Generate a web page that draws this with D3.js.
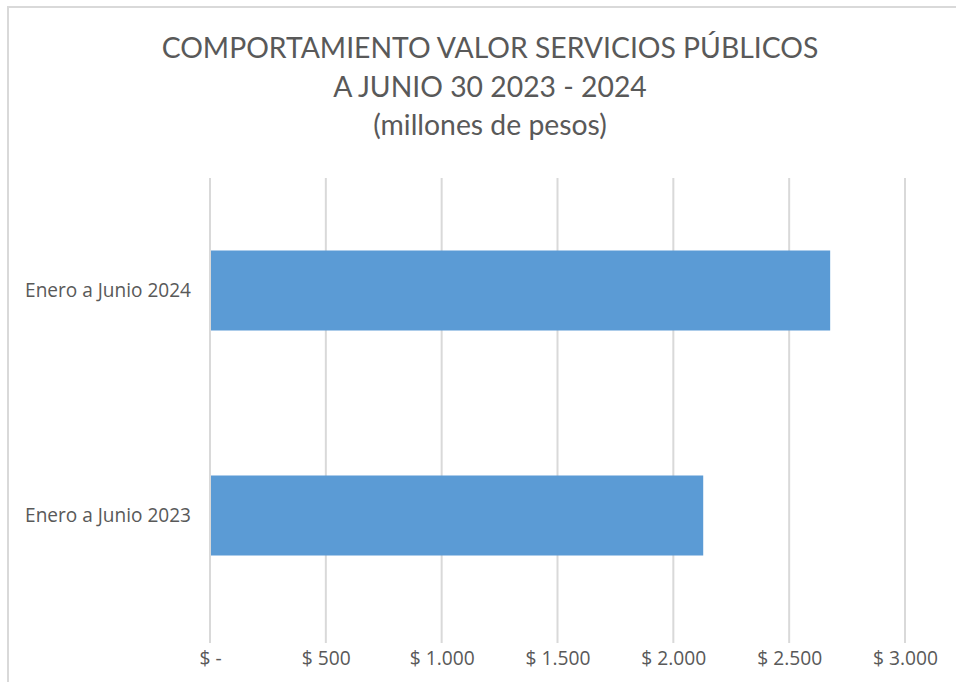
<!DOCTYPE html>
<html>
<head>
<meta charset="utf-8">
<script src="https://cdn.jsdelivr.net/npm/d3@7"></script>
<style>
  body { margin: 0; background: #fff; }
  text { font-family: Lato, "Open Sans", sans-serif; fill: #595959; }
</style>
</head>
<body>
<svg id="chart" width="956" height="682"></svg>
<script>
// data
const categories = ["Enero a Junio 2024", "Enero a Junio 2023"];
const values = [2677, 2129];
const tickValues = [0, 500, 1000, 1500, 2000, 2500, 3000];
const titleLines = ["COMPORTAMIENTO VALOR SERVICIOS PÚBLICOS", "A JUNIO 30 2023 - 2024", "(millones de pesos)"];

const svg = d3.select("#chart");

// scale a group of texts so a sample text hits the target width
function fitFont(sel, sample, target) {
    const w = sample.getComputedTextLength();
    const fs = parseFloat(sample.style.fontSize);
    sel.style("font-size", (fs * target / w) + "px");
}

// chart border (only top/left visible in the crop)
svg.append("rect")
    .attr("x", 8).attr("y", 7)
    .attr("width", 1000).attr("height", 700)
    .attr("fill", "none")
    .attr("stroke", "#d9d9d9")
    .attr("stroke-width", 2);

// scales
const x = d3.scaleLinear().domain([0, 3000]).range([210, 905]);
const y = d3.scaleBand()
    .domain(categories)
    .range([178, 628])
    .paddingInner(0.6444)
    .paddingOuter(0.3222);

// title
const title = svg.append("g");
const baselines = [58, 97, 135];
titleLines.forEach((t, i) => {
    title.append("text")
        .attr("x", 490)
        .attr("y", baselines[i])
        .attr("text-anchor", "middle")
        .style("font-size", "27px")
        .text(t);
});
fitFont(title.selectAll("text"), title.select("text").node(), 657);

// gridlines
svg.append("g")
    .selectAll("line")
    .data(tickValues)
    .join("line")
    .attr("x1", d => x(d)).attr("x2", d => x(d))
    .attr("y1", 178).attr("y2", 643)
    .attr("stroke", "#d9d9d9")
    .attr("stroke-width", 2);

// bars
svg.append("g")
    .selectAll("rect")
    .data(values)
    .join("rect")
    .attr("x", x(0) + 1)
    .attr("y", (d, i) => y(categories[i]))
    .attr("width", d => x(d) - x(0) - 1)
    .attr("height", y.bandwidth())
    .attr("fill", "#5b9bd5");

// x axis labels
const fmt = d => d === 0 ? "$ -" : "$ " + d3.format(",")(d).replace(/,/g, ".");
const xAxis = svg.append("g")
    .attr("transform", "translate(0,643)")
    .call(d3.axisBottom(x).tickValues(tickValues).tickFormat(fmt).tickSize(0));
xAxis.select(".domain").remove();
const xLabels = xAxis.selectAll("text")
    .attr("dy", "0")
    .attr("y", 22)
    .style("font-size", "16px")
    .style("font-family", "'Open Sans', sans-serif")
    .attr("fill", "#595959");
fitFont(xLabels, xLabels.nodes()[6], 65);

// y axis labels
const yAxis = svg.append("g")
    .attr("transform", "translate(191,0)")
    .call(d3.axisLeft(y).tickSize(0).tickPadding(0));
yAxis.select(".domain").remove();
const yLabels = yAxis.selectAll("text")
    .attr("dy", "0.35em")
    .style("font-size", "16px")
    .style("font-family", "'Open Sans', sans-serif")
    .attr("fill", "#595959");
fitFont(yLabels, yLabels.nodes()[0], 166);
</script>
</body>
</html>
